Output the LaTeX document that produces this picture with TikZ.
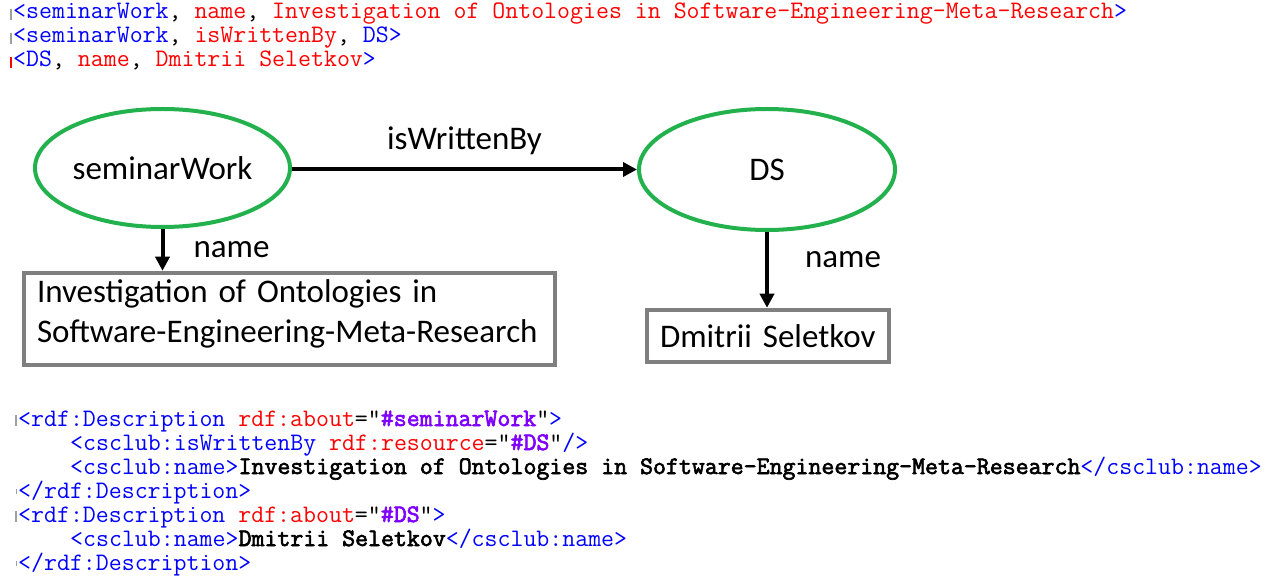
\documentclass[tikz,border=0pt]{standalone}
\usepackage{fontspec}
\setmonofont{Latin Modern Mono}[Ligatures=TeXOff]
\newfontfamily\monob{Latin Modern Mono}[Ligatures=TeXOff, FakeBold=2.5]
\newfontfamily\calib{Carlito}
\usetikzlibrary{arrows.meta,shapes.geometric}
\definecolor{tagblue}{RGB}{0,0,255}
\definecolor{attred}{RGB}{255,0,0}
\definecolor{valpurple}{RGB}{128,0,255}
\definecolor{nodegreen}{RGB}{34,177,76}
\definecolor{boxgray}{RGB}{127,127,127}
\definecolor{tickgray}{RGB}{160,160,160}
\newcommand{\tb}[1]{\textcolor{tagblue}{#1}}
\newcommand{\ar}[1]{\textcolor{attred}{#1}}
\newcommand{\vp}[1]{\textcolor{valpurple}{\monob #1}}
\newcommand{\bk}[1]{{\monob #1}}
\begin{document}
\begin{tikzpicture}[x=1pt,y=-1pt,
  code/.style={anchor=base west, inner sep=0pt, font=\ttfamily\fontsize{25.15}{24}\selectfont},
  tick/.style={line width=1.2pt, draw=tickgray},
  res/.style={ellipse, draw=nodegreen, line width=4pt, inner sep=0pt,
    font=\calib\fontsize{33}{40}\selectfont},
  lit/.style={rectangle, draw=boxgray, line width=4.5pt, align=left, inner ysep=0pt,
    font=\calib\fontsize{33}{40}\selectfont},
  lbl/.style={inner sep=0pt, font=\calib\fontsize{33}{40}\selectfont},
  rel/.style={line width=4pt, -{Triangle[length=14pt,width=14pt]}}
]
\useasboundingbox[fill=white] (0,0) rectangle (1275,577);

% triples
\draw[tick] (11,9) -- (11,20);
\draw[tick] (11,33) -- (11,44);
\draw[tick, draw=attred] (11,57) -- (11,68);
\node[code] (t1) at (13,19) {\tb{<seminarWork}, \ar{name}, \ar{Investigation of Ontologies in Software-Engineering-Meta-Research}\tb{>}};
\node[code] (t2) at (13,43) {\tb{<seminarWork}, \ar{isWrittenBy}, \tb{DS>}};
\node[code] (t3) at (13,67) {\tb{<DS}, \ar{name}, \ar{Dmitrii Seletkov}\tb{>}};

% graph
\node[res, minimum width=255pt, minimum height=118pt] (sw) at (162.5,168) {seminarWork};
\node[res, minimum width=256pt, minimum height=121pt] (ds) at (767,169.5) {DS};
\node[lit, minimum width=531pt, minimum height=92pt, text width=505pt, inner xsep=13pt,
      text height=25pt, text depth=57pt] (l1) at (289.5,319)
      {Investigation of Ontologies in\\Software-Engineering-Meta-Research};
\node[lit, minimum width=242pt, minimum height=52pt, text width=216pt, inner xsep=13pt] (l2) at (768,336)
      {Dmitrii Seletkov};

\draw[rel] (sw.east |- ds.west) -- node[lbl, above=13pt] {isWrittenBy} (ds.west);
\draw[rel] (sw.south) -- node[lbl, right=29pt] {name} (sw.south |- l1.north);
\draw[rel] (ds.south) -- node[lbl, pos=0.37, right=36pt] {name} (ds.south |- l2.north);

% RDF/XML
\foreach \yy in {426,522} \draw[tick] (16,\yy-11) -- (16,\yy);
\foreach \yy in {498,570} \draw[tick, line width=0.8pt] (16,\yy-9) -- (16,\yy-4);
\node[code] (x1) at (18,426) {\tb{<rdf:Description} \ar{rdf:about}="\vp{\#seminarWork}"\tb{>}};
\node[code] (x2) at (70,450) {\tb{<csclub:isWrittenBy} \ar{rdf:resource}="\vp{\#DS}"\tb{/>}};
\node[code] (x3) at (70,474) {\tb{<csclub:name>}\bk{Investigation of Ontologies in Software-Engineering-Meta-Research}\tb{</csclub:name>}};
\node[code] (x4) at (18,498) {\tb{</rdf:Description>}};
\node[code] (x5) at (18,522) {\tb{<rdf:Description} \ar{rdf:about}="\vp{\#DS}"\tb{>}};
\node[code] (x6) at (70,546) {\tb{<csclub:name>}\bk{Dmitrii Seletkov}\tb{</csclub:name>}};
\node[code] (x7) at (18,570) {\tb{</rdf:Description>}};
\end{tikzpicture}
\end{document}
